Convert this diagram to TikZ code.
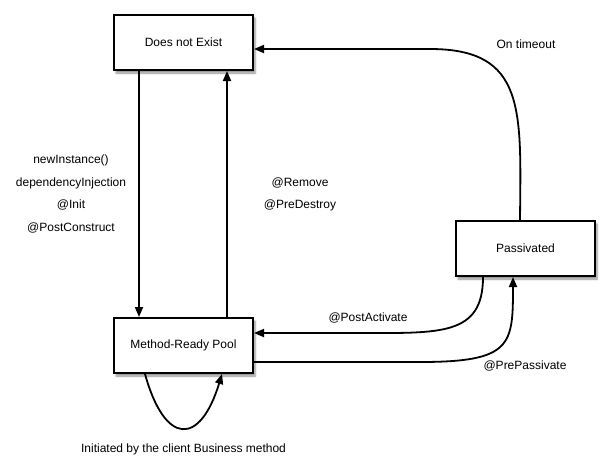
\documentclass[tikz,border=0pt]{standalone}
\usepackage{fontspec}
\setmainfont{Liberation Sans}
\usetikzlibrary{arrows.meta,shadows.blur}
\begin{document}
\begin{tikzpicture}[x=1pt,y=-1pt,
  state/.style={draw=black,line width=2pt,fill=white,minimum width=139pt,minimum height=55pt,inner sep=0pt,
    blur shadow={shadow xshift=2pt,shadow yshift=-3pt,shadow blur steps=6,shadow opacity=45},font=\fontsize{12}{14}\selectfont},
  lbl/.style={inner sep=0pt,font=\fontsize{12}{14}\selectfont},
  arr/.style={line width=1.8pt,-{Triangle[length=10pt,width=8pt]}},
  ln/.style={line width=1.8pt}]
\useasboundingbox (0,0) rectangle (615,467);
\node[state] (dne) at (183.5,42.5) {Does not Exist};
\node[state] (mrp) at (183.5,345.5) {Method-Ready Pool};
\node[state] (pas) at (525.5,248.5) {Passivated};

\draw[arr] (139,0 |- dne.south) -- (139,0 |- mrp.north);
\draw[arr] (227,0 |- mrp.north) -- (227,0 |- dne.south);

\draw[arr] (520,0 |- pas.north) .. controls (521,110) and (526,49) .. (430,49) -- (dne.east |- 0,49);
\draw[arr] (483,0 |- pas.south) .. controls (483,336) and (440,333) .. (360,333) -- (mrp.east |- 0,333);
\draw[arr] (mrp.east |- 0,362) -- (420,362) .. controls (512,362) and (513,345) .. (513,0 |- pas.south);
\draw[arr] (145,0 |- mrp.south) .. controls (165,446) and (200,446) .. (222,0 |- mrp.south);

\node[lbl] (l1) at (71,160) {newInstance()};
\node[lbl] (l2) at (71,183) {dependencyInjection};
\node[lbl] (l3) at (71,205) {@Init};
\node[lbl] (l4) at (71,228) {@PostConstruct};
\node[lbl] (l5) at (300,183) {@Remove};
\node[lbl] (l6) at (300,205) {@PreDestroy};
\node[lbl] (l7) at (526,44) {On timeout};
\node[lbl] (l8) at (368,318) {@PostActivate};
\node[lbl] (l9) at (525,366) {@PrePassivate};
\node[lbl] (l10) at (183.5,449) {Initiated by the client Business method};
\end{tikzpicture}
\end{document}
